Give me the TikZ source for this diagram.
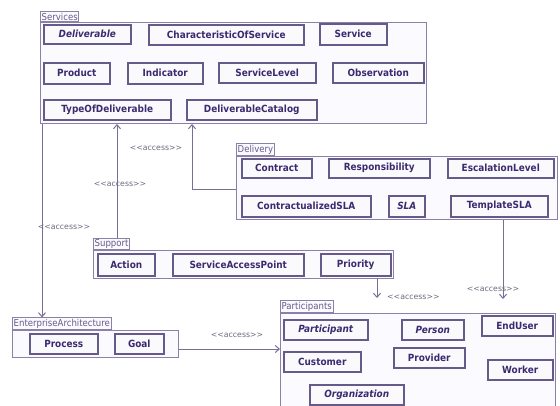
\documentclass[tikz,border=0pt]{standalone}
\usepackage{fontspec}
\usepackage{tikz}
\usetikzlibrary{arrows.meta}
\newfontfamily\umlfont{DejaVu Sans Condensed}
\newfontfamily\tagfont{DejaVu Sans}
\definecolor{clstext}{HTML}{3C2A70}
\definecolor{clsline}{HTML}{665A8A}
\definecolor{clsfill}{HTML}{FAFAFD}
\definecolor{pkgline}{HTML}{8A80A8}
\definecolor{pkgfill}{HTML}{FBFAFE}
\definecolor{depline}{HTML}{7A6E96}
\definecolor{taggray}{HTML}{6E6A80}

\begin{document}
\begin{tikzpicture}[x=1pt,y=-1pt,
	cls/.style={draw=clsline,line width=1.5pt,fill=clsfill,text=clstext,
		font=\umlfont\bfseries\fontsize{9.9}{11}\selectfont,
		inner sep=0pt,anchor=north west},
	abs/.style={cls,font=\umlfont\bfseries\itshape\fontsize{9.9}{11}\selectfont},
	pkg/.style={draw=pkgline,line width=1pt,fill=pkgfill,inner sep=0pt,anchor=north west},
	pkgtab/.style={draw=pkgline,line width=1pt,fill=pkgfill,text=clsline,
		font=\umlfont\fontsize{9.5}{10}\selectfont,inner sep=1.2pt,anchor=south west},
	dep/.style={draw=depline,line width=1pt,-{Straight Barb[length=4pt,width=7pt]}},
	tag/.style={text=taggray,font=\tagfont\fontsize{7.8}{8}\selectfont,inner sep=1pt}]
	\useasboundingbox[fill=white] (0,0) rectangle (560,405);

	% packages
	\node[pkg,minimum width=386,minimum height=101] (services) at (40,22) {};
	\node[pkgtab] (servicestab) at (services.north west) {Services};
	\node[pkg,minimum width=321,minimum height=63] (delivery) at (236,156) {};
	\node[pkgtab] (deliverytab) at (delivery.north west) {Delivery};
	\node[pkg,minimum width=300,minimum height=28] (support) at (93,250) {};
	\node[pkgtab] (supporttab) at (support.north west) {Support};
	\node[pkg,minimum width=166,minimum height=27] (ea) at (12,330) {};
	\node[pkgtab] (eatab) at (ea.north west) {EnterpriseArchitecture};
	\node[pkg,minimum width=275,minimum height=110] (participants) at (280,313) {};
	\node[pkgtab] (participantstab) at (participants.north west) {Participants};

	% Services
	\node[abs,minimum width=87,minimum height=19] (deliverable) at (43,24) {Deliverable};
	\node[cls,minimum width=155,minimum height=20] (characteristic) at (148,24) {CharacteristicOfService};
	\node[cls,minimum width=67,minimum height=21] (service) at (319,23) {Service};
	\node[cls,minimum width=66,minimum height=21] (product) at (43,62) {Product};
	\node[cls,minimum width=75,minimum height=21] (indicator) at (127,62) {Indicator};
	\node[cls,minimum width=97,minimum height=20] (servicelevel) at (218,62) {ServiceLevel};
	\node[cls,minimum width=91,minimum height=20] (observation) at (332,62) {Observation};
	\node[cls,minimum width=127,minimum height=20] (typeofdeliverable) at (43,99) {TypeOfDeliverable};
	\node[cls,minimum width=130,minimum height=20] (deliverablecatalog) at (186,99) {DeliverableCatalog};

	% Delivery
	\node[cls,minimum width=70,minimum height=19] (contract) at (241,158) {Contract};
	\node[cls,minimum width=101,minimum height=19] (responsibility) at (328,158) {Responsibility};
	\node[cls,minimum width=106,minimum height=19] (escalationlevel) at (447,158) {EscalationLevel};
	\node[cls,minimum width=129,minimum height=21] (contractualizedsla) at (241,195) {ContractualizedSLA};
	\node[abs,minimum width=36,minimum height=21] (sla) at (388,195) {SLA};
	\node[cls,minimum width=97,minimum height=21] (templatesla) at (450,195) {TemplateSLA};

	% Support
	\node[cls,minimum width=57,minimum height=22] (action) at (97,253) {Action};
	\node[cls,minimum width=131,minimum height=22] (serviceaccesspoint) at (172,253) {ServiceAccessPoint};
	\node[cls,minimum width=70,minimum height=22] (priority) at (320,253) {Priority};

	% EnterpriseArchitecture
	\node[cls,minimum width=68,minimum height=20] (process) at (29,333) {Process};
	\node[cls,minimum width=49,minimum height=20] (goal) at (114,333) {Goal};

	% Participants
	\node[abs,minimum width=84,minimum height=20] (participant) at (283,319) {Participant};
	\node[abs,minimum width=62,minimum height=20] (person) at (401,319) {Person};
	\node[cls,minimum width=71,minimum height=20] (enduser) at (481,315) {EndUser};
	\node[cls,minimum width=77,minimum height=20] (customer) at (283,351) {Customer};
	\node[cls,minimum width=71,minimum height=20] (provider) at (393,347) {Provider};
	\node[cls,minimum width=65,minimum height=20] (worker) at (487,359) {Worker};
	\node[abs,minimum width=94,minimum height=20] (organization) at (309,384) {Organization};

	% access dependencies
	\coordinate (prioend) at (377,298);
	\coordinate (slaend) at (503,299);
	\draw[dep] (supporttab.north -| 117,0) -- (services.south -| 117,0);
	\node[tag] (tag1) at (120,184) {<<access>>};
	\draw[dep] (delivery.west |- 0,189) -| (services.south -| 192,0);
	\node[tag] (tag2) at (156,148) {<<access>>};
	\draw[dep] (services.south -| 42,0) -- (eatab.north -| 42,0);
	\node[tag] (tag3) at (64,227) {<<access>>};
	\draw[dep] (ea.east |- 0,349) -- (participants.west |- 0,349);
	\node[tag] (tag4) at (237,335) {<<access>>};
	\draw[dep] (support.south -| prioend) -- (prioend);
	\node[tag,anchor=west] (tag5) at (386,297) {<<access>>};
	\draw[dep] (delivery.south -| slaend) -- (slaend);
	\node[tag] (tag6) at (493,289) {<<access>>};
\end{tikzpicture}
\end{document}
